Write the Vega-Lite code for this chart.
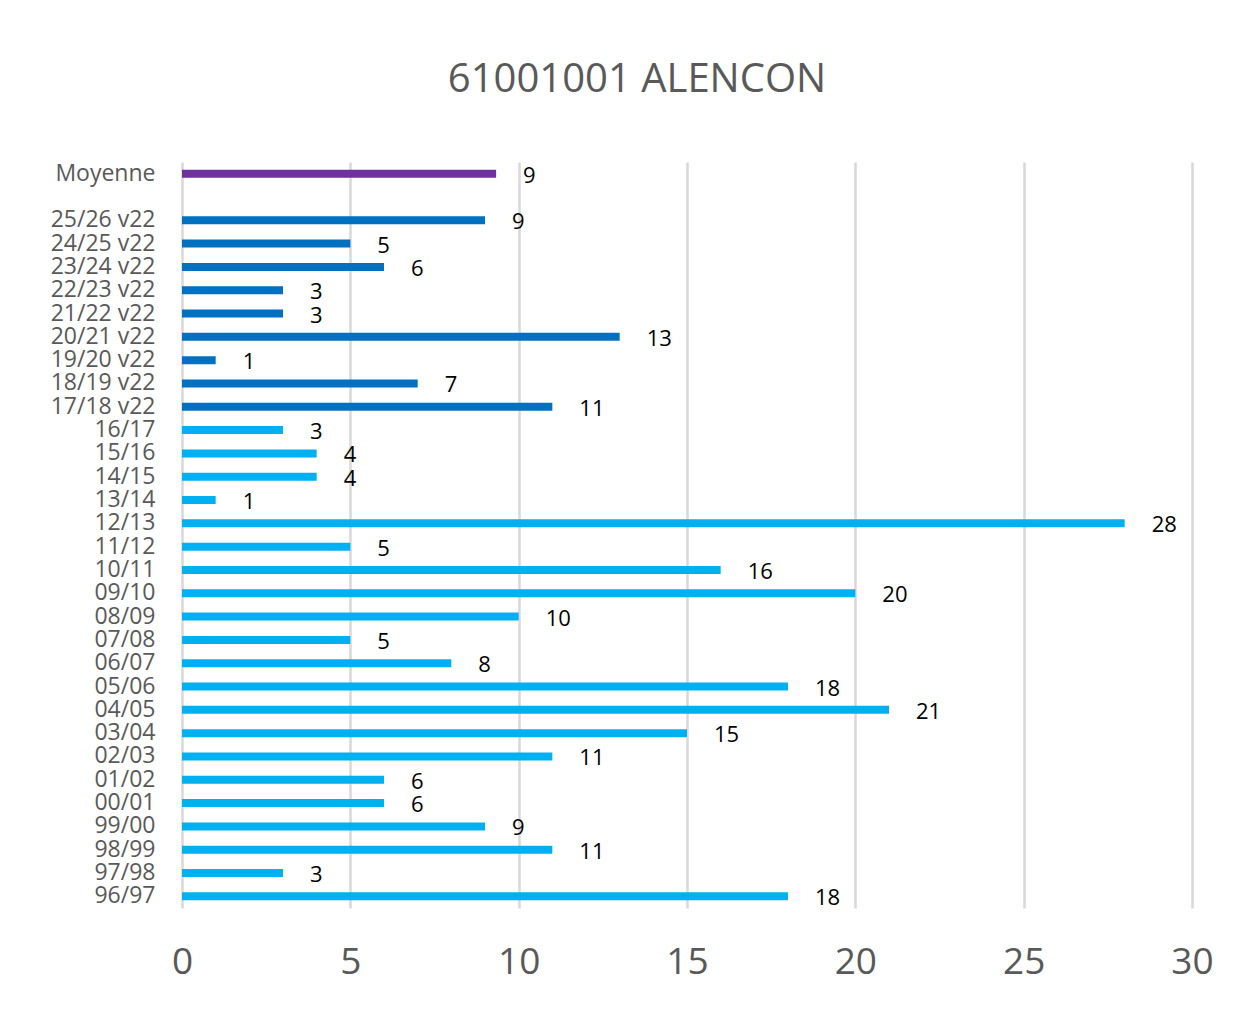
{
  "$schema": "https://vega.github.io/schema/vega-lite/v6.json",
  "width": 1010,
  "height": 746,
  "autosize": {"type": "none"},
  "padding": {"left": 182, "top": 162, "right": 51, "bottom": 102},
  "background": "white",
  "config": {
    "font": "Open Sans",
    "view": {"stroke": null}
  },
  "title": {
    "text": "61001001 ALENCON",
    "fontSize": 40,
    "font": "Open Sans",
    "fontWeight": "normal",
    "color": "#595959",
    "anchor": "middle",
    "frame": "group",
    "dx": -50,
    "offset": 30,
    "baseline": "alphabetic"
  },
  "data": {
    "values": [
      {"label": "Moyenne", "value": 9.33, "group": "Moyenne"},
      {"label": "25/26 v22", "value": 9, "group": "v22"},
      {"label": "24/25 v22", "value": 5, "group": "v22"},
      {"label": "23/24 v22", "value": 6, "group": "v22"},
      {"label": "22/23 v22", "value": 3, "group": "v22"},
      {"label": "21/22 v22", "value": 3, "group": "v22"},
      {"label": "20/21 v22", "value": 13, "group": "v22"},
      {"label": "19/20 v22", "value": 1, "group": "v22"},
      {"label": "18/19 v22", "value": 7, "group": "v22"},
      {"label": "17/18 v22", "value": 11, "group": "v22"},
      {"label": "16/17", "value": 3, "group": "old"},
      {"label": "15/16", "value": 4, "group": "old"},
      {"label": "14/15", "value": 4, "group": "old"},
      {"label": "13/14", "value": 1, "group": "old"},
      {"label": "12/13", "value": 28, "group": "old"},
      {"label": "11/12", "value": 5, "group": "old"},
      {"label": "10/11", "value": 16, "group": "old"},
      {"label": "09/10", "value": 20, "group": "old"},
      {"label": "08/09", "value": 10, "group": "old"},
      {"label": "07/08", "value": 5, "group": "old"},
      {"label": "06/07", "value": 8, "group": "old"},
      {"label": "05/06", "value": 18, "group": "old"},
      {"label": "04/05", "value": 21, "group": "old"},
      {"label": "03/04", "value": 15, "group": "old"},
      {"label": "02/03", "value": 11, "group": "old"},
      {"label": "01/02", "value": 6, "group": "old"},
      {"label": "00/01", "value": 6, "group": "old"},
      {"label": "99/00", "value": 9, "group": "old"},
      {"label": "98/99", "value": 11, "group": "old"},
      {"label": "97/98", "value": 3, "group": "old"},
      {"label": "96/97", "value": 18, "group": "old"}
    ]
  },
  "encoding": {
    "y": {
      "field": "label",
      "type": "nominal",
      "scale": {
        "domain": ["Moyenne", " ", "25/26 v22", "24/25 v22", "23/24 v22", "22/23 v22", "21/22 v22", "20/21 v22", "19/20 v22", "18/19 v22", "17/18 v22", "16/17", "15/16", "14/15", "13/14", "12/13", "11/12", "10/11", "09/10", "08/09", "07/08", "06/07", "05/06", "04/05", "03/04", "02/03", "01/02", "00/01", "99/00", "98/99", "97/98", "96/97"],
        "paddingInner": 0,
        "paddingOuter": 0
      },
      "axis": {
        "title": null,
        "domain": false,
        "ticks": false,
        "grid": false,
        "labelFontSize": 23,
        "labelFont": "Open Sans",
        "labelColor": "#595959",
        "labelPadding": 27
      }
    },
    "x": {
      "field": "value",
      "type": "quantitative",
      "scale": {"domain": [0, 30], "nice": false},
      "axis": {
        "title": null,
        "values": [0, 5, 10, 15, 20, 25, 30],
        "domain": false,
        "ticks": false,
        "grid": true,
        "gridColor": "#D9D9D9",
        "gridWidth": 2.5,
        "labelFlush": false,
        "labelFontSize": 37,
        "labelFont": "Open Sans",
        "labelColor": "#595959",
        "labelPadding": 36
      }
    }
  },
  "layer": [
    {
      "mark": {"type": "bar", "size": 8},
      "encoding": {
        "color": {
          "field": "group",
          "type": "nominal",
          "scale": {"domain": ["Moyenne", "v22", "old"], "range": ["#7030A0", "#0070C0", "#00B0F0"]},
          "legend": null
        }
      }
    },
    {
      "mark": {"type": "text", "align": "left", "baseline": "middle", "dx": 27, "dy": 2, "fontSize": 22, "font": "Open Sans", "color": "#000000"},
      "encoding": {
        "text": {"field": "value", "type": "quantitative", "format": ".0f"}
      }
    }
  ]
}
